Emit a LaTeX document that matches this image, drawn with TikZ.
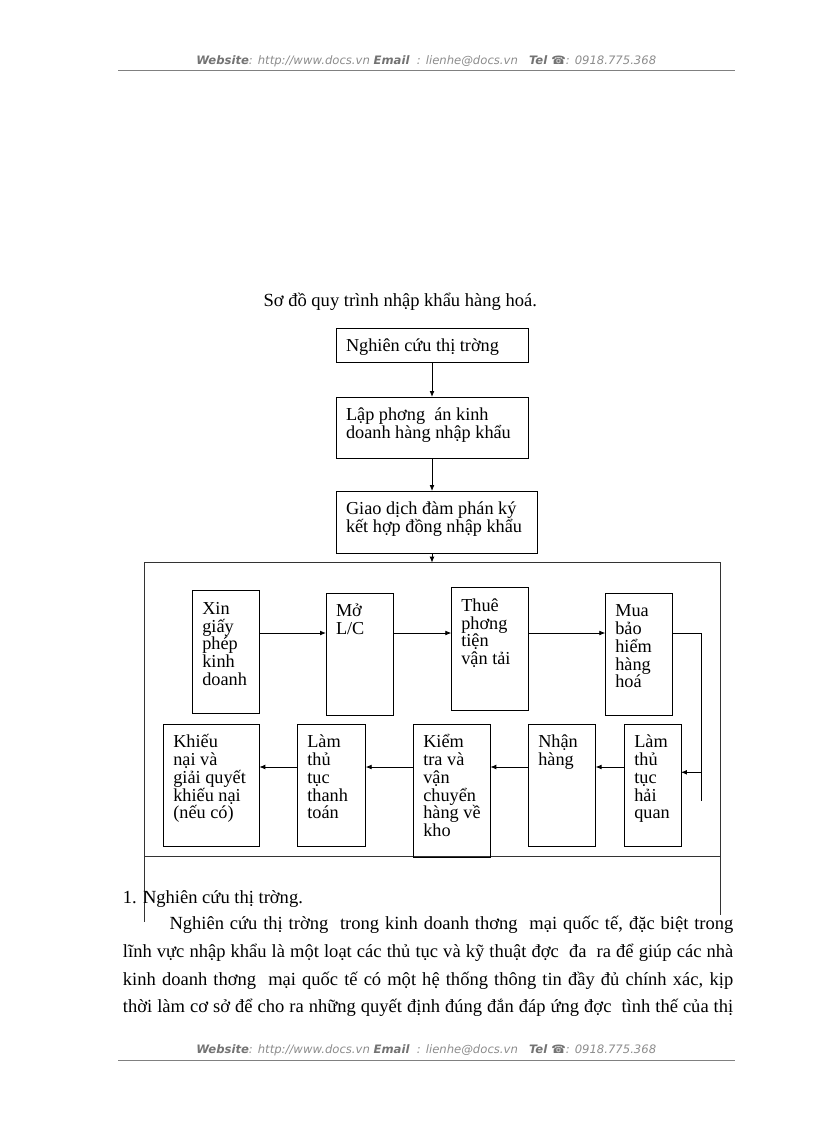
\documentclass[tikz,border=0pt]{standalone}
\usepackage{fontspec}
\setmainfont{Liberation Serif}
\newfontfamily\headfont{DejaVu Sans}
\usetikzlibrary{arrows.meta}

\tikzset{
  stepbox/.style 2 args={draw, line width=0.7pt, minimum width=#1, minimum height=#2,
    anchor=north west, inner sep=0pt, outer sep=0pt},
  boxtext/.style={anchor=north west, align=left, inner xsep=7.3pt, inner ysep=4.95pt,
    font=\fontsize{13.7}{13.3}\selectfont},
  link/.style={->, line width=0.6pt},
  framerule/.style={line width=0.6pt, black!80},
  bodyline/.style={anchor=base west, inner sep=0pt, font=\fontsize{13.9}{20.8}\selectfont},
  headline/.style={anchor=base west, inner sep=0pt, black!45, font=\headfont\itshape\fontsize{8.73}{11}\selectfont},
  >={Latex[length=4.5pt, width=3.6pt]}
}
\newcommand\headbold[1]{{\bfseries\color{black!55}#1}}
% strut for the first line of the text in a box
\newcommand\fl{\rule{0pt}{12.6pt}}

\begin{document}
\begin{tikzpicture}[x=0.75pt, y=-0.75pt]
  \useasboundingbox (0,0) rectangle (816,1123);

  % Header and footer
  \node[headline] (header) at (196,64.3) {\headbold{Website}: http://www.docs.vn\ \headbold{Email}\ \ : lienhe@docs.vn\ \ \ \headbold{Tel ☎}: 0918.775.368};
  \draw[black!50, line width=0.7pt] (118,70.7) -- (735,70.7);
  \node[headline] (footer) at (196,1053.3) {\headbold{Website}: http://www.docs.vn\ \headbold{Email}\ \ : lienhe@docs.vn\ \ \ \headbold{Tel ☎}: 0918.775.368};
  \draw[black!50, line width=0.7pt] (118,1060.7) -- (735,1060.7);

  % Title
  \node[bodyline] (title) at (263.3,306.7) {Sơ đồ quy trình nhập khẩu hàng hoá.};

  % Upper chain
  \node[stepbox={144pt}{25.5pt}, label={[boxtext]north west:\fl Nghiên cứu thị trờng}] (nghiencuu) at (336,328) {};
  \node[stepbox={144pt}{45.75pt}, label={[boxtext]north west:\fl Lập phơng\ \ án kinh\\doanh hàng nhập khẩu}] (lapphuongan) at (336,397) {};
  \node[stepbox={150.75pt}{46.5pt}, label={[boxtext]north west:\fl Giao dịch đàm phán ký\\kết hợp đồng nhập khẩu}] (giaodich) at (336,491) {};

  % Frame round the two rows
  \coordinate (fnw) at (144.7,562.7);
  \coordinate (fne) at (720.7,562.7);
  \coordinate (fsw) at (144.7,921.7);
  \coordinate (fse) at (720.7,915);
  \coordinate (fmidl) at (144.7,856.7);
  \coordinate (fmidr) at (720.7,856.7);
  \draw[framerule] (fsw) -- (fnw) -- (fne) -- (fse);
  \draw[framerule] (fmidl) -- (fmidr);

  \draw[link] (nghiencuu.south) -- (lapphuongan.north);
  \draw[link] (lapphuongan.south) -- (lapphuongan.south |- giaodich.north);
  \draw[link] (lapphuongan.south |- giaodich.south) -- (lapphuongan.south |- fnw);

  % First row
  \node[stepbox={50.25pt}{92pt}, label={[boxtext]north west:\fl Xin\\giấy\\phép\\kinh\\doanh}] (xin) at (192.3,590.7) {};
  \node[stepbox={50.5pt}{91.8pt}, label={[boxtext]north west:\fl Mở\\L/C}] (mo) at (326,593.3) {};
  \node[stepbox={58pt}{91.7pt}, label={[boxtext]north west:\fl Thuê\\phơng\\tiện\\vận tải}] (thue) at (451.3,587.7) {};
  \node[stepbox={50.25pt}{91.8pt}, label={[boxtext]north west:\fl Mua\\bảo\\hiểm\\hàng\\hoá}] (mua) at (605.3,593.3) {};

  % Second row
  \node[stepbox={72pt}{91.8pt}, label={[boxtext]north west:\fl Khiếu\\nại và\\giải quyết\\khiếu nại\\(nếu có)}] (khieunai) at (163.3,724.3) {};
  \node[stepbox={51.3pt}{91.8pt}, label={[boxtext]north west:\fl Làm\\thủ\\tục\\thanh\\toán}] (thanhtoan) at (297.3,724.3) {};
  \node[stepbox={57.75pt}{100pt}, label={[boxtext]north west:\fl Kiểm\\tra và\\vận\\chuyển\\hàng về\\kho}] (kiemtra) at (413.3,724.3) {};
  \node[stepbox={50.5pt}{91.8pt}, label={[boxtext]north west:\fl Nhận\\hàng}] (nhanhang) at (528.3,724.3) {};
  \node[stepbox={42.5pt}{91.8pt}, label={[boxtext]north west:\fl Làm\\thủ\\tục\\hải\\quan}] (haiquan) at (624.3,724.3) {};

  % Connectors of the rows
  \coordinate (row1) at (0,633);
  \coordinate (row2) at (0,767);
  \coordinate (bend) at (701.7,633);
  \coordinate (drop) at (701.7,801);
  \coordinate (branch) at (701.7,772.3);
  \draw[link] (xin.east |- row1) -- (mo.west |- row1);
  \draw[link] (mo.east |- row1) -- (thue.west |- row1);
  \draw[link] (thue.east |- row1) -- (mua.west |- row1);
  \draw[line width=0.6pt] (mua.east |- row1) -- (bend) -- (drop);
  \draw[link] (branch) -- (haiquan.east |- branch);
  \draw[link] (haiquan.west |- row2) -- (nhanhang.east |- row2);
  \draw[link] (nhanhang.west |- row2) -- (kiemtra.east |- row2);
  \draw[link] (kiemtra.west |- row2) -- (thanhtoan.east |- row2);
  \draw[link] (thanhtoan.west |- row2) -- (khieunai.east |- row2);

  % Body text
  \node[bodyline] (section) at (122.7,903) {1. Nghiên cứu thị trờng.};
  \node[bodyline] (line1) at (169.3,929) {\makebox[422.8pt][s]{Nghiên cứu thị trờng\ \ trong kinh doanh thơng\ \ mại quốc tế, đặc biệt trong}};
  \node[bodyline] (line2) at (122.7,957) {\makebox[457.7pt][s]{lĩnh vực nhập khẩu là một loạt các thủ tục và kỹ thuật đợc\ \ đa\ \ ra để giúp các nhà}};
  \node[bodyline] (line3) at (122.7,985) {\makebox[457.7pt][s]{kinh doanh thơng\ \ mại quốc tế có một hệ thống thông tin đầy đủ chính xác, kịp}};
  \node[bodyline] (line4) at (122.7,1012.7) {\makebox[457.7pt][s]{thời làm cơ sở để cho ra những quyết định đúng đắn đáp ứng đợc\ \ tình thế của thị}};
\end{tikzpicture}
\end{document}
